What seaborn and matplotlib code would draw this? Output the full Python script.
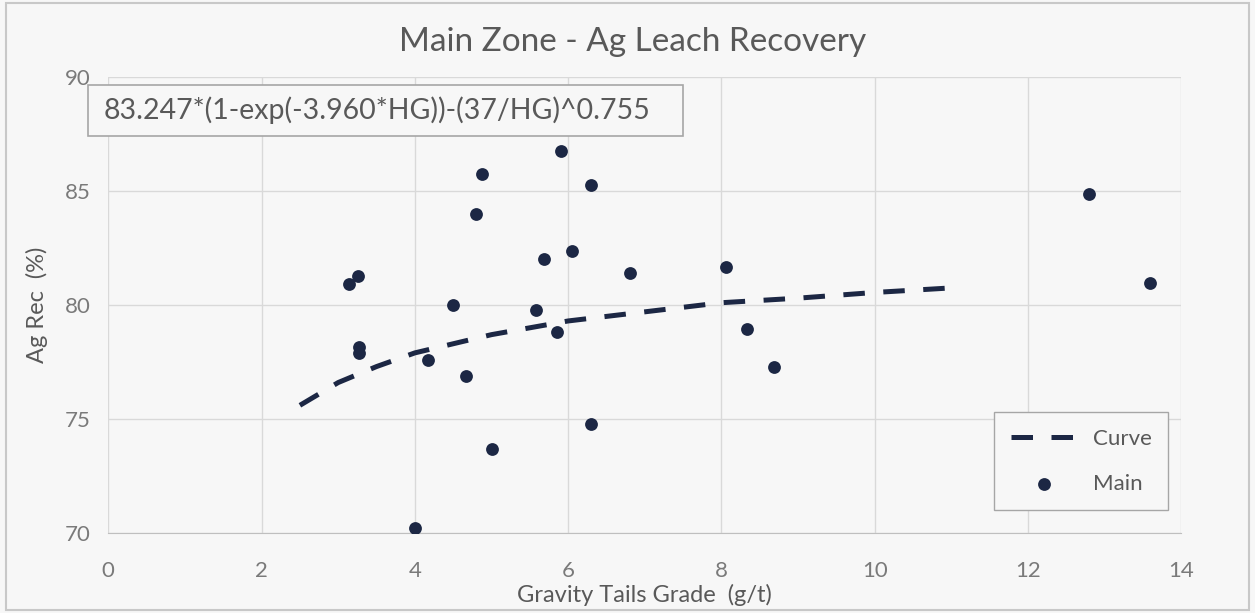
import seaborn as sns
import matplotlib.pyplot as plt
import matplotlib.patches as mpatches
import pandas as pd

# data
hg = [3.14, 3.26, 3.27, 3.27, 4.0, 4.17, 4.5, 4.67, 4.8, 4.88, 5.0, 5.58,
      5.68, 5.85, 5.9, 6.05, 6.3, 6.3, 6.81, 8.06, 8.33, 8.69, 12.79, 13.59]
ag_rec = [80.9, 81.25, 78.15, 77.9, 70.2, 77.6, 80.0, 76.9, 84.0, 85.75, 73.7, 79.8,
          82.0, 78.8, 86.75, 82.35, 85.25, 74.8, 81.4, 81.65, 78.95, 77.3, 84.85, 80.95]

curve_hg = [2.5, 3, 3.5, 4, 5, 6, 7, 8, 9, 10, 11]
curve_rec = [75.6, 76.6, 77.3, 77.9, 78.7, 79.3, 79.7, 80.1, 80.3, 80.55, 80.75]

pts = pd.DataFrame({'HG': hg, 'Rec': ag_rec})
crv = pd.DataFrame({'HG': curve_hg, 'Rec': curve_rec})

sns.set_style('whitegrid')
plt.rcParams['font.family'] = ['Lato', 'DejaVu Sans']

bg = '#f7f7f7'
navy = '#1c2744'
grey_txt = '#595959'

fig = plt.figure(figsize=(12.55, 6.13), dpi=100, facecolor=bg)
ax = fig.add_axes([0.0863, 0.1305, 0.855, 0.7439])
ax.set_facecolor(bg)

sns.lineplot(data=crv, x='HG', y='Rec', ax=ax, color=navy, linewidth=3.6,
             dashes=False, label='Curve')
ax.lines[0].set_dashes([4.3, 3.7])
sns.scatterplot(data=pts, x='HG', y='Rec', ax=ax, color=navy, s=85,
                edgecolor=navy, linewidth=0, label='Main', zorder=3)

ax.set_xlim(0, 14)
ax.set_ylim(70, 90)
ax.set_xticks(range(0, 15, 2))
ax.set_yticks(range(70, 91, 5))
ax.grid(True, color='#d9d9d9', linewidth=1)
for s in ax.spines.values():
    s.set_visible(False)
ax.spines['bottom'].set_visible(True)
ax.spines['bottom'].set_color('#bfbfbf')
ax.tick_params(axis='both', length=0, labelsize=16, labelcolor='#7a7a7a')
ax.tick_params(axis='x', pad=20)
ax.tick_params(axis='y', pad=13)

ax.set_xlabel('Gravity Tails Grade  (g/t)', fontsize=17, color=grey_txt, labelpad=2)
ax.set_ylabel('Ag Rec  (%)', fontsize=17, color=grey_txt, labelpad=12)
fig.text(0.504, 0.932, 'Main Zone - Ag Leach Recovery', ha='center', va='center',
         fontsize=24, color=grey_txt)

# equation box, partly outside the plot area like the original
ax.add_patch(mpatches.Rectangle((-0.0189, 0.8715), 0.5549, 0.111, transform=ax.transAxes,
                                facecolor=bg, edgecolor='#a6a6a6', linewidth=1.2,
                                clip_on=False, zorder=4))
ax.text(-0.004, 0.927, '83.247*(1-exp(-3.960*HG))-(37/HG)^0.755', transform=ax.transAxes,
        ha='left', va='center', fontsize=20.5, color=grey_txt, zorder=5)

leg = ax.legend(loc='lower right', bbox_to_anchor=(0.988, 0.05), frameon=True,
                fontsize=16, labelcolor=grey_txt, handlelength=3.0, borderpad=0.75,
                labelspacing=1.1, fancybox=False, handletextpad=0.7, borderaxespad=0)
leg.get_frame().set_facecolor(bg)
leg.get_frame().set_edgecolor('#a6a6a6')
leg.get_frame().set_alpha(1)

fig.patches.append(mpatches.Rectangle((0.005, 0.005), 0.99, 0.99, transform=fig.transFigure,
                                      fill=False, edgecolor='#c8c8c8', linewidth=1.5))

fig.savefig('out.png', dpi=100, facecolor=bg)
